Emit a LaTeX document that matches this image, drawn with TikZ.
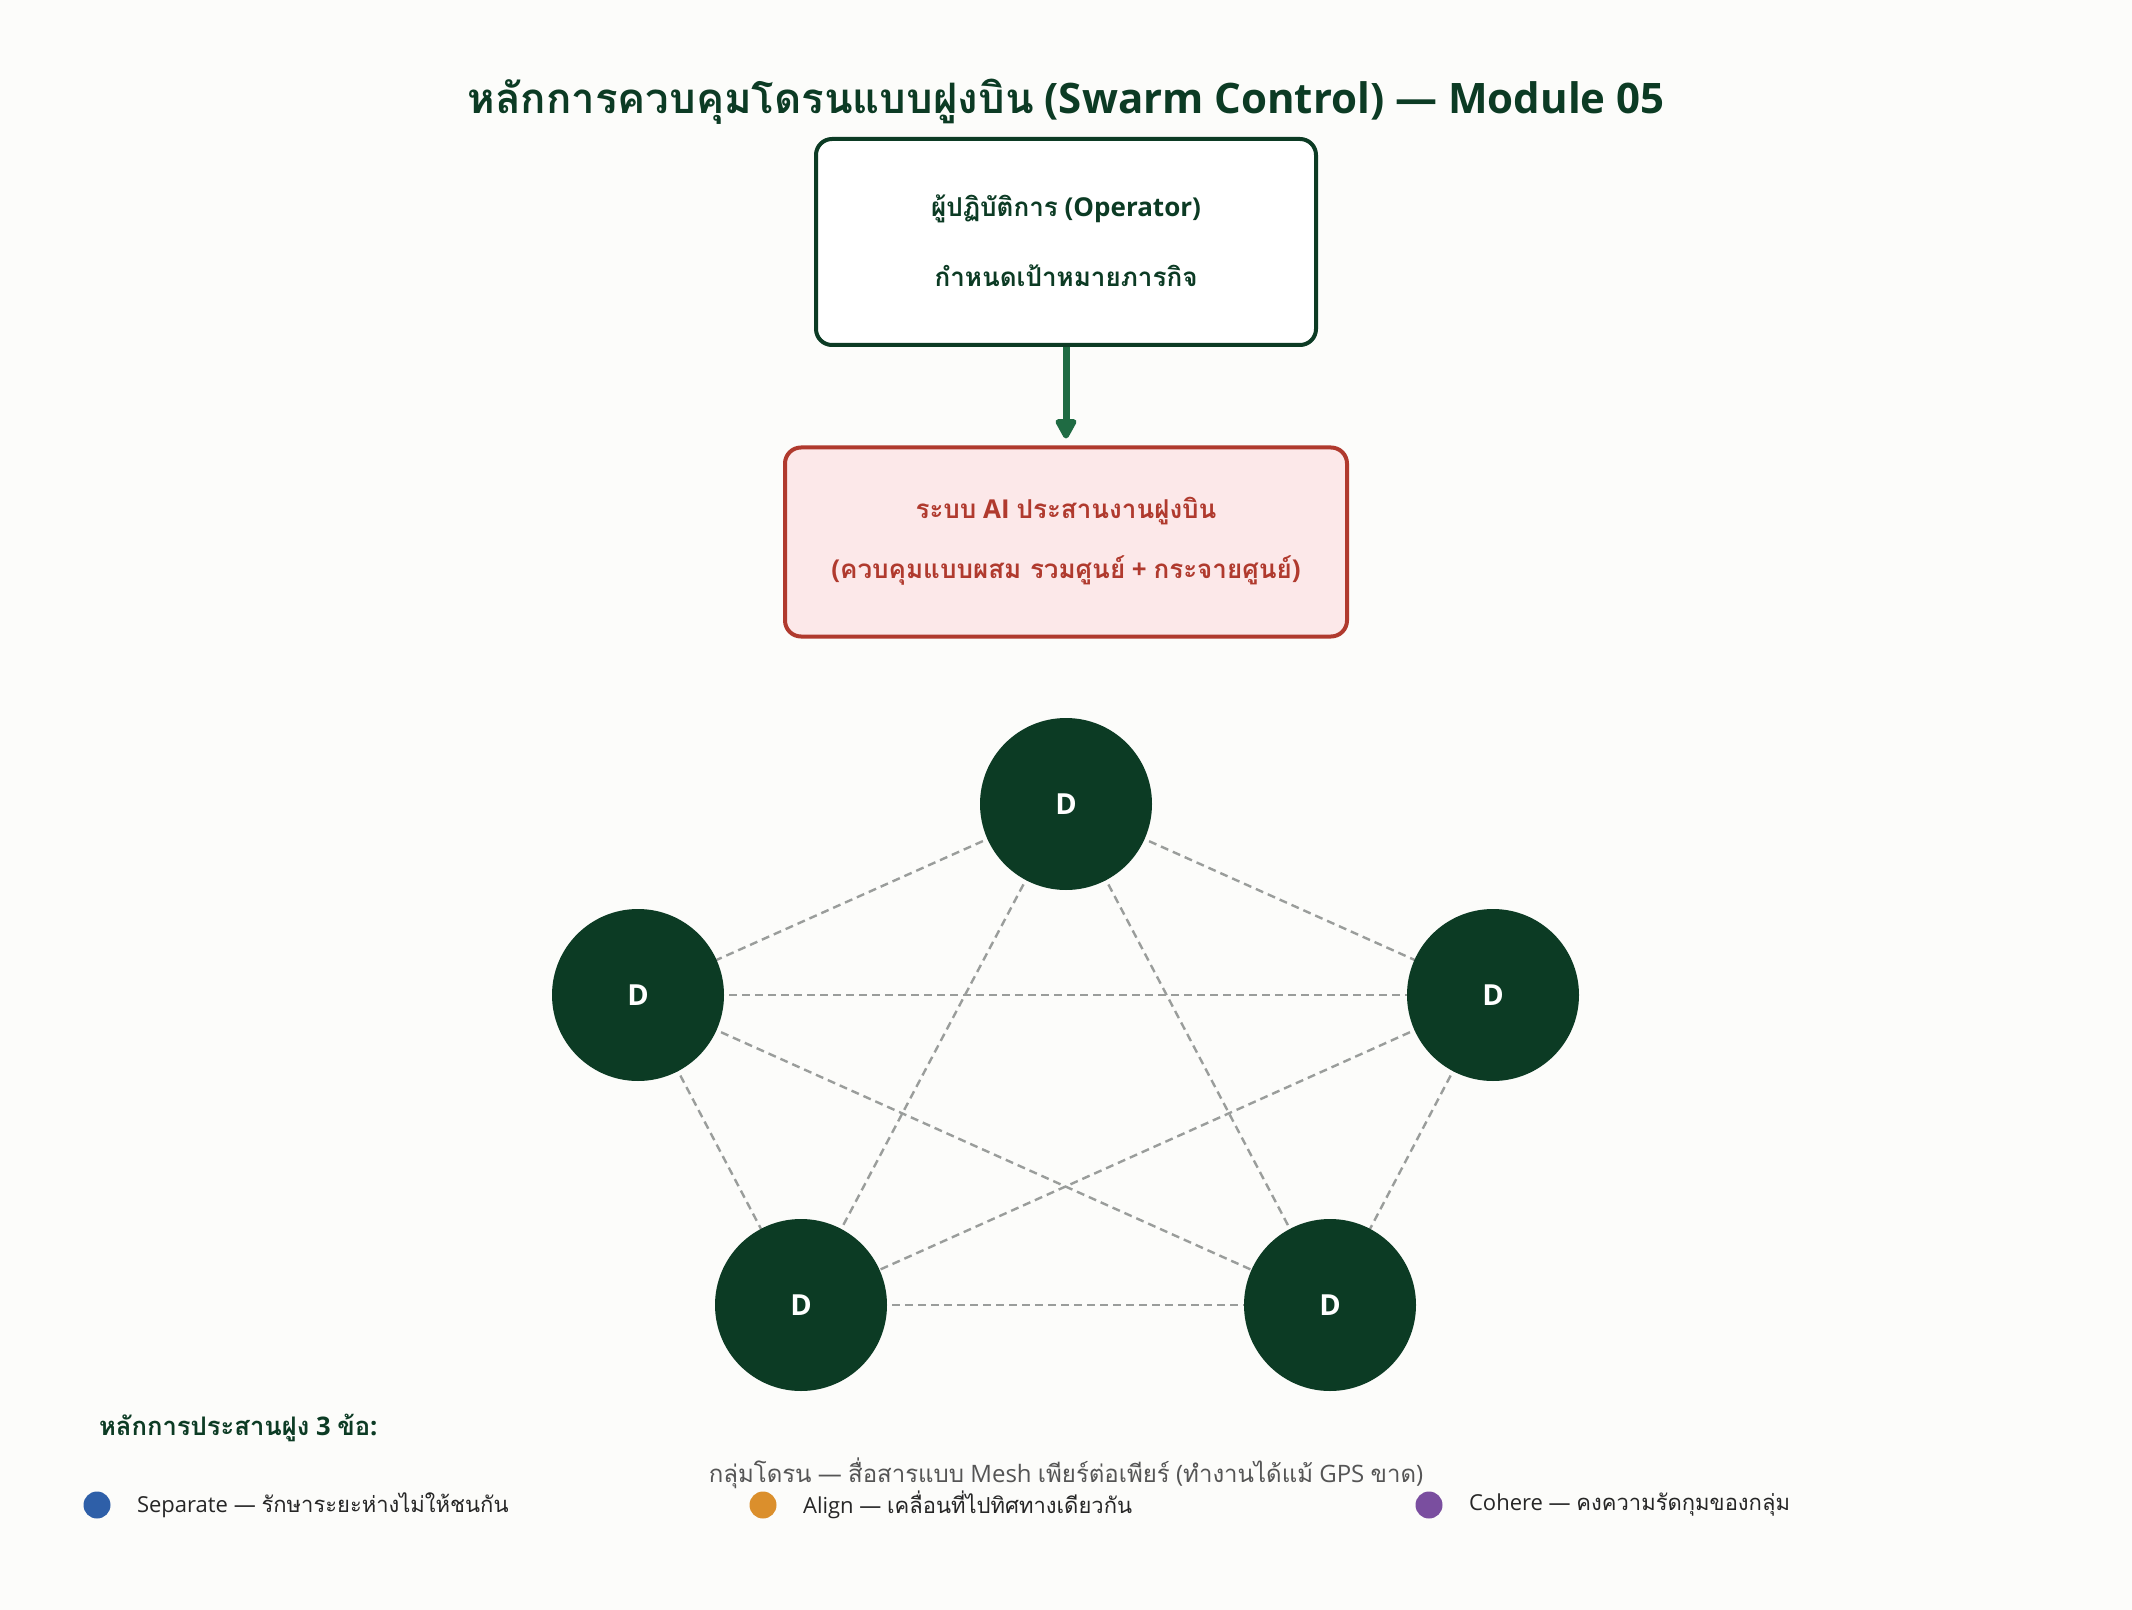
\documentclass[tikz,border=0pt]{standalone}
\usepackage{fontspec}
\setmainfont{Open Sans}
\newfontfamily\thaifont[Script=Thai]{Loma}
\newcommand{\thai}[1]{{\thaifont #1}}
\usetikzlibrary{arrows.meta, positioning}

\definecolor{darkgreen}{HTML}{0C3B24}
\definecolor{arrowgreen}{HTML}{1F6B43}
\definecolor{aired}{HTML}{B03A2E}
\definecolor{aipink}{HTML}{FCE8E9}
\definecolor{edgegray}{HTML}{9A9D9B}
\definecolor{bgcol}{HTML}{FCFCFA}
\definecolor{sepblue}{HTML}{2E5FA8}
\definecolor{alorange}{HTML}{DB8F2C}
\definecolor{cohpurple}{HTML}{7A4E9F}
\definecolor{captiongray}{HTML}{555555}

\tikzset{
  opbox/.style={draw=darkgreen, line width=2pt, fill=white, rounded corners=8pt,
    minimum width=250pt, minimum height=103pt},
  aibox/.style={draw=aired, line width=2pt, fill=aipink, rounded corners=8pt,
    minimum width=281pt, minimum height=94.5pt},
  boxtext/.style={font=\bfseries\fontsize{13}{15}\selectfont},
  drone/.style={circle, fill=darkgreen, minimum size=86pt, inner sep=0pt,
    text=white, font=\bfseries\fontsize{14.5}{16}\selectfont},
  link/.style={edgegray, line width=1.2pt, dash pattern=on 4pt off 2.5pt},
  dot/.style={circle, minimum size=13.5pt, inner sep=0pt},
  legtext/.style={anchor=west, text=black!85, font=\fontsize{11}{13}\selectfont},
}

\begin{document}
\begin{tikzpicture}[x=0.5pt, y=-0.5pt]
    \fill[bgcol] (0, 0) rectangle (2132, 1610);
    \useasboundingbox (0, 0) rectangle (2132, 1610);

    \node[text=darkgreen, font=\bfseries\fontsize{21}{25}\selectfont] (title) at (1066, 102)
        {\thai{หลักการควบคุมโดรนแบบฝูงบิน} (Swarm Control) — Module 05};

    % operator and AI layer
    \node[opbox] (op) at (1066, 242) {};
    \node[boxtext, text=darkgreen] (op1) at (1066, 209) {\thai{ผู้ปฏิบัติการ} (Operator)};
    \node[boxtext, text=darkgreen] (op2) at (1066, 276) {\thai{กำหนดเป้าหมายภารกิจ}};

    \node[aibox] (ai) at (1066, 542) {};
    \node[boxtext, text=aired] (ai1) at (1066, 511) {\thai{ระบบ} AI \thai{ประสานงานฝูงบิน}};
    \node[boxtext, text=aired] (ai2) at (1066, 570) {(\thai{ควบคุมแบบผสม รวมศูนย์} + \thai{กระจายศูนย์})};

    \draw[arrowgreen, line width=3.5pt, -{Triangle[length=11.5pt, width=11.5pt, round]}, shorten >=3.5pt]
        (op.south) -- (ai.north);

    % swarm
    \draw[link] (1066, 804) -- (638, 995);
    \draw[link] (1066, 804) -- (1493, 995);
    \draw[link] (1066, 804) -- (801, 1305);
    \draw[link] (1066, 804) -- (1330, 1305);
    \draw[link] (638, 995) -- (1493, 995);
    \draw[link] (638, 995) -- (801, 1305);
    \draw[link] (638, 995) -- (1330, 1305);
    \draw[link] (1493, 995) -- (801, 1305);
    \draw[link] (1493, 995) -- (1330, 1305);
    \draw[link] (801, 1305) -- (1330, 1305);

    \node[drone] (d1) at (1066, 804) {D};
    \node[drone] (d2) at (638, 995) {D};
    \node[drone] (d3) at (1493, 995) {D};
    \node[drone] (d4) at (801, 1305) {D};
    \node[drone] (d5) at (1330, 1305) {D};

    \node[text=captiongray, font=\fontsize{12}{14}\selectfont] (caption) at (1066, 1473)
        {\thai{กลุ่มโดรน} — \thai{สื่อสารแบบ} Mesh \thai{เพียร์ต่อเพียร์} (\thai{ทำงานได้แม้} GPS \thai{ขาด})};

    % legend
    \node[anchor=west, text=darkgreen, font=\bfseries\fontsize{12.8}{15}\selectfont] (leghead) at (92, 1428)
        {\thai{หลักการประสานฝูง} 3 \thai{ข้อ}:};

    \node[dot, fill=sepblue] (dot1) at (97, 1505) {};
    \node[legtext] (leg1) at (130, 1505) {Separate — \thai{รักษาระยะห่างไม่ให้ชนกัน}};
    \node[dot, fill=alorange] (dot2) at (763, 1505) {};
    \node[legtext] (leg2) at (796, 1505) {Align — \thai{เคลื่อนที่ไปทิศทางเดียวกัน}};
    \node[dot, fill=cohpurple] (dot3) at (1429, 1505) {};
    \node[legtext] (leg3) at (1462, 1505) {Cohere — \thai{คงความรัดกุมของกลุ่ม}};
\end{tikzpicture}
\end{document}
